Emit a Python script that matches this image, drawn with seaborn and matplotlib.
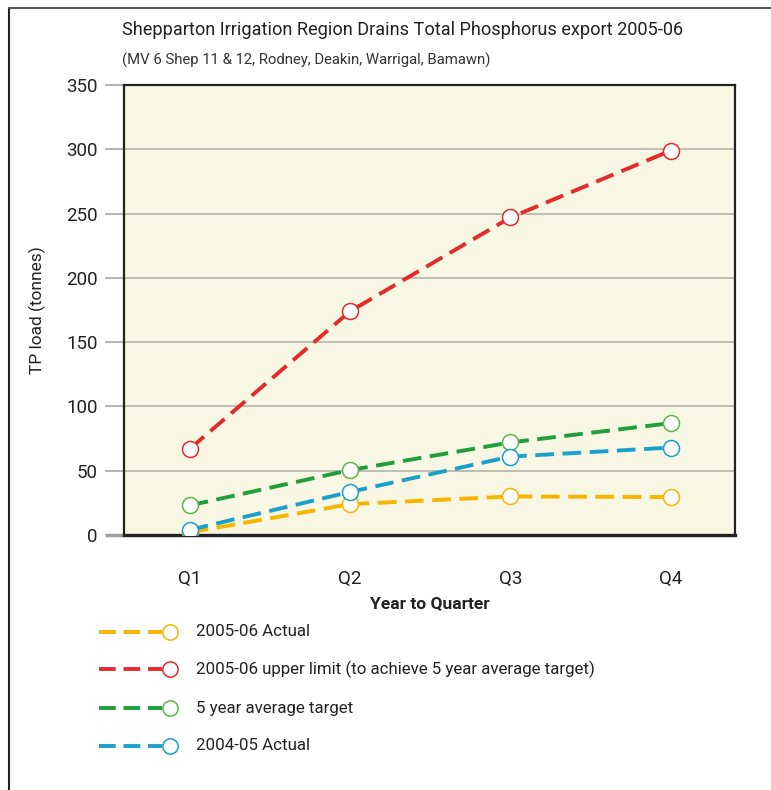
import matplotlib
matplotlib.use('Agg')
import matplotlib.pyplot as plt
import seaborn as sns
from matplotlib.lines import Line2D

# ---- data ----
quarters = ['Q1', 'Q2', 'Q3', 'Q4']
actual_0506 = [2, 24, 30, 29.5]
upper_limit_0506 = [67, 174, 247, 299]
five_year_target = [23, 50.5, 72, 87]
actual_0405 = [4, 33.5, 61, 68]
series_names = ['2005-06 Actual',
                '2005-06 upper limit (to achieve 5 year average target)',
                '5 year average target',
                '2004-05 Actual']
series_values = [actual_0506, upper_limit_0506, five_year_target, actual_0405]
y_ticks = [0, 50, 100, 150, 200, 250, 300, 350]

line_colors = ['#f7b500', '#e52a2d', '#1f9e3d', '#1aa0cb']
edge_colors = ['#f7b500', '#e52a2d', '#5cb846', '#1aa0cb']

sns.set_theme(style='white')
plt.rcParams['font.family'] = ['Roboto', 'DejaVu Sans']

W, H = 771, 790
fig = plt.figure(figsize=(W / 100, H / 100), dpi=100)
L, R, T, B = 124, 735, 85, 535
ax = fig.add_axes([L / W, 1 - B / H, (R - L) / W, (B - T) / H])
ax.set_facecolor('#f8f7e3')

dash = (0, (4.8, 2.2))
for name, vals, lc, ec in zip(series_names, series_values, line_colors, edge_colors):
    sns.lineplot(x=quarters, y=vals, ax=ax, color=lc, lw=2.8, linestyle=dash,
                 marker='o', markersize=11.5, markerfacecolor='white',
                 markeredgecolor=ec, markeredgewidth=1.1, zorder=3)

ax.set_xlim(-0.41, 3.40)
ax.set_ylim(0, 350)
ax.set_yticks(y_ticks)
ax.set_yticklabels([str(v) for v in y_ticks], fontsize=13.5, color='#222222')
ax.yaxis.grid(True, color='#b8b8b0', lw=1.3)
ax.xaxis.grid(False)
ax.set_axisbelow(True)
ax.tick_params(axis='y', length=14, width=1.1, color='#a0a0a0', pad=5, left=True)
ax.tick_params(axis='x', length=0, pad=25, labelsize=13.5, labelcolor='#222222')
t0 = ax.yaxis.get_major_ticks()[0]
t0.tick1line.set_color('#222222')
t0.tick1line.set_markeredgewidth(2.5)

for s in ['left', 'right', 'top']:
    ax.spines[s].set_color('#222222')
    ax.spines[s].set_linewidth(1.6)
    ax.spines[s].set_visible(True)
ax.spines['bottom'].set_color('#222222')
ax.spines['bottom'].set_linewidth(2.4)
ax.spines['bottom'].set_visible(True)

ax.set_xlabel('Year to Quarter', fontsize=12.5, fontweight='bold', color='#222222')
ax.xaxis.set_label_coords(0.5, -(604 - B) / (B - T), transform=ax.transAxes)
ax.xaxis.label.set_va('center')
ax.set_ylabel('TP load (tonnes)', fontsize=12.5, color='#222222')
ax.yaxis.set_label_coords((37 - L) / (R - L), 0.5, transform=ax.transAxes)
ax.yaxis.label.set_va('center')
if ax.get_legend():
    ax.get_legend().remove()

# titles
fig.text(122 / W, 1 - 30 / H, 'Shepparton Irrigation Region Drains Total Phosphorus export 2005-06',
         fontsize=13.1, color='#222222', va='center', ha='left')
fig.text(122 / W, 1 - 60 / H, '(MV 6 Shep 11 & 12, Rodney, Deakin, Warrigal, Bamawn)',
         fontsize=10.7, color='#333333', va='center', ha='left')

# legend (manual)
rows_y = [632, 669, 708, 746]
for name, lc, ec, yy in zip(series_names, line_colors, edge_colors, rows_y):
    yf = 1 - yy / H
    fig.add_artist(Line2D([99 / W, 162 / W], [yf, yf], transform=fig.transFigure,
                          color=lc, lw=2.8, linestyle=(0, (4.3, 2.0))))
    fig.add_artist(Line2D([170 / W], [yf], transform=fig.transFigure, marker='o',
                          markersize=11, markerfacecolor='white', markeredgecolor=ec,
                          markeredgewidth=1.1, linestyle='none'))
    fig.text(196 / W, yf, name, fontsize=12.2, color='#222222', va='center', ha='left')

# outer border (left and top)
fig.add_artist(Line2D([9 / W, 9 / W], [0, 1 - 8 / H], transform=fig.transFigure, color='#222222', lw=1.5))
fig.add_artist(Line2D([9 / W, 1], [1 - 8 / H, 1 - 8 / H], transform=fig.transFigure, color='#555555', lw=1.5))

fig.savefig('out.png', dpi=100)
